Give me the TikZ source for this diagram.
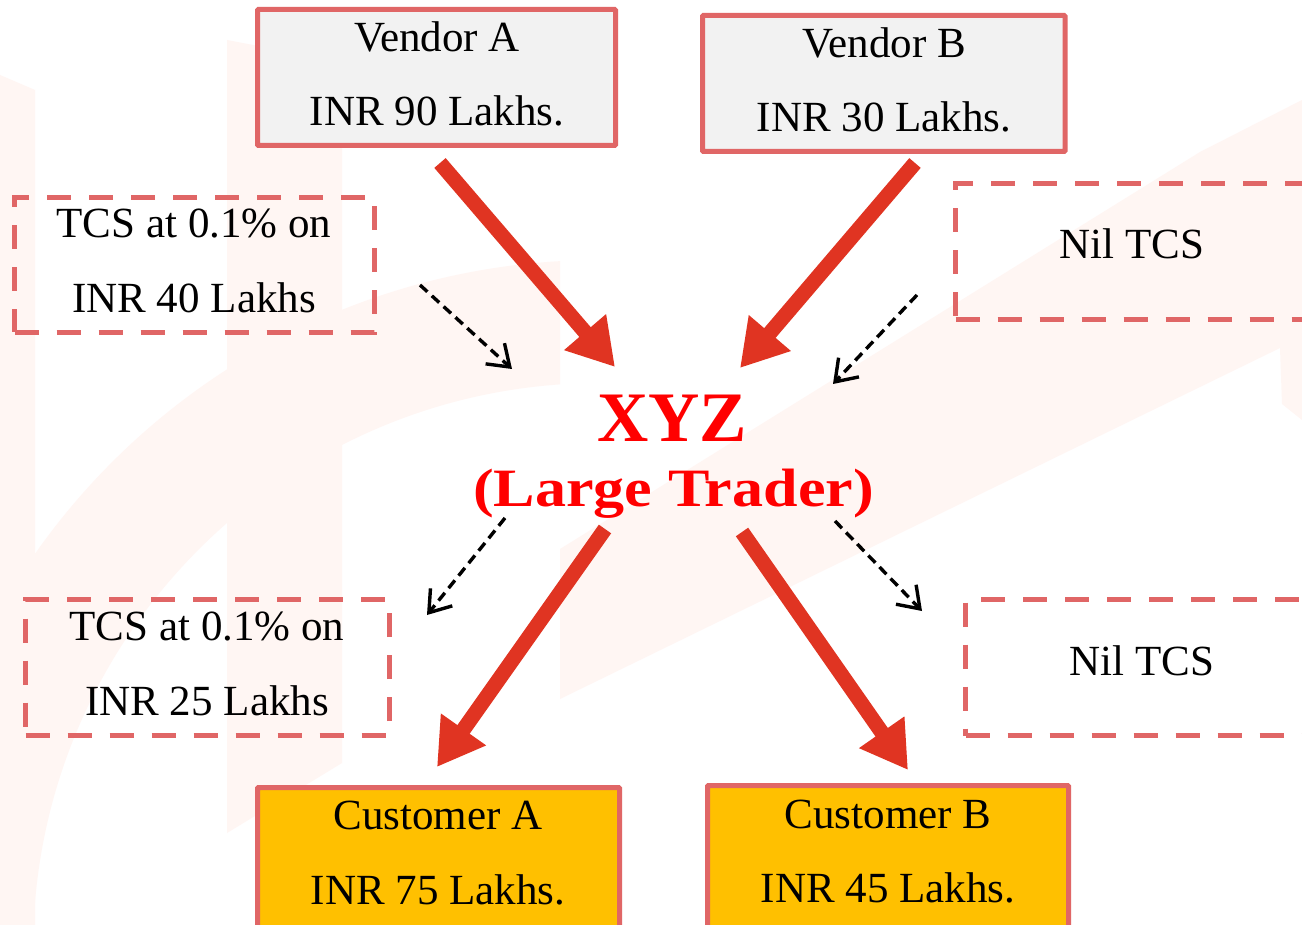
\documentclass[tikz,border=0pt]{standalone}
\usepackage{fontspec}
\setmainfont{Liberation Serif}
\newfontfamily\subfont[FakeStretch=1.15]{Liberation Serif}
\usetikzlibrary{arrows.meta}
\definecolor{boxred}{RGB}{224,102,102}
\definecolor{arrred}{RGB}{224,52,34}
\definecolor{vfill}{RGB}{242,242,242}
\definecolor{cfill}{RGB}{255,192,0}
\definecolor{wm}{RGB}{255,246,243}
\definecolor{titlered}{RGB}{255,0,0}
\begin{document}
\begin{tikzpicture}[x=1pt,y=-1pt,
  solidbox/.style={draw=boxred, line width=5pt, inner sep=0pt, rounded corners=1pt},
  dashbox/.style={draw=boxred, line width=5pt, dash pattern=on 24pt off 18pt, inner sep=0pt},
  txt/.style={anchor=base, font=\fontsize{43}{50}\selectfont, inner sep=0pt},
  bigarrow/.style={draw=arrred, line width=15pt, -{Triangle[length=46pt,width=52pt]}},
  dasharrow/.style={draw=black, line width=3.4pt, dash pattern=on 10pt off 6pt, -{Straight Barb[length=20pt,width=28pt]}}]
\clip (0,0) rectangle (1302,925);
\fill[white] (0,0) rectangle (1302,925);
% faint watermark
\fill[wm] (0,75) -- (35,90) -- (35,925) -- (0,925) -- cycle;
\fill[wm] (227,40) -- (342,62) -- (342,763) -- (227,833) -- cycle;
\begin{scope}
  \clip (35,0) rectangle (560,925);
  \fill[wm, even odd rule] (600,950) circle (690) (600,950) circle (567);
\end{scope}
\fill[wm] (560,549) -- (1200,152) -- (1302,100) -- (1302,420) -- (1282,404) -- (1280,348) -- (560,699) -- cycle;

% boxes
\node[solidbox, fill=vfill, minimum width=358pt, minimum height=136pt] (vA) at (436.5,77.5) {};
\node[solidbox, fill=vfill, minimum width=362.5pt, minimum height=136pt] (vB) at (883.75,83.5) {};
\node[solidbox, fill=cfill, minimum width=362pt, minimum height=172pt] (cA) at (438.5,873.5) {};
\node[solidbox, fill=cfill, minimum width=361pt, minimum height=172pt] (cB) at (888,871.5) {};
\node[dashbox, minimum width=359.5pt, minimum height=135pt] (tl) at (194.25,265) {};
\node[dashbox, minimum width=363.5pt, minimum height=136pt] (bl) at (207.25,667.5) {};
\node[dashbox, minimum width=444.5pt, minimum height=136pt] (tr) at (1177.75,251.5) {};
\node[dashbox, minimum width=434.5pt, minimum height=136pt] (br) at (1182.75,667.5) {};

% texts
\node[txt] (vA1) at (437,52) {Vendor A};
\node[txt] (vA2) at (437,126) {INR 90 Lakhs.};
\node[txt] (vB1) at (884,58) {Vendor B};
\node[txt] (vB2) at (884,132) {INR 30 Lakhs.};
\node[txt] (tl1) at (194,238) {TCS at 0.1\% on};
\node[txt] (tl2) at (194,313) {INR 40 Lakhs};
\node[txt] (tr1) at (1132,259) {Nil TCS};
\node[txt] (bl1) at (207,640) {TCS at 0.1\% on};
\node[txt] (bl2) at (207,715) {INR 25 Lakhs};
\node[txt] (br1) at (1142,675) {Nil TCS};
\node[txt] (cA1) at (438,829) {Customer A};
\node[txt] (cA2) at (438,904) {INR 75 Lakhs.};
\node[txt] (cB1) at (888,828) {Customer B};
\node[txt] (cB2) at (888,902) {INR 45 Lakhs.};
\node[anchor=base, inner sep=0pt, text=titlered, font=\fontsize{71}{80}\selectfont\bfseries] (xyz) at (672,441) {XYZ};
\node[anchor=base, inner sep=0pt, text=titlered, font=\subfont\fontsize{54}{60}\selectfont\bfseries] (lt) at (673.5,506) {(Large Trader)};

% arrow end points
\coordinate (a1s) at (440,163);  \coordinate (a1e) at (615,367);
\coordinate (a2s) at (915,163);  \coordinate (a2e) at (740,368);
\coordinate (a3s) at (605,529);  \coordinate (a3e) at (437,767);
\coordinate (a4s) at (742,532);  \coordinate (a4e) at (908,770);
\coordinate (d1s) at (420,285);  \coordinate (d1e) at (512,369);
\coordinate (d2s) at (917,295);  \coordinate (d2e) at (833,384);
\coordinate (d3s) at (505,518);  \coordinate (d3e) at (427,615);
\coordinate (d4s) at (835,521);  \coordinate (d4e) at (922,611);

\draw[bigarrow] (a1s) -- (a1e);
\draw[bigarrow] (a2s) -- (a2e);
\draw[bigarrow] (a3s) -- (a3e);
\draw[bigarrow] (a4s) -- (a4e);
\draw[dasharrow] (d1s) -- (d1e);
\draw[dasharrow] (d2s) -- (d2e);
\draw[dasharrow] (d3s) -- (d3e);
\draw[dasharrow] (d4s) -- (d4e);
\end{tikzpicture}
\end{document}
